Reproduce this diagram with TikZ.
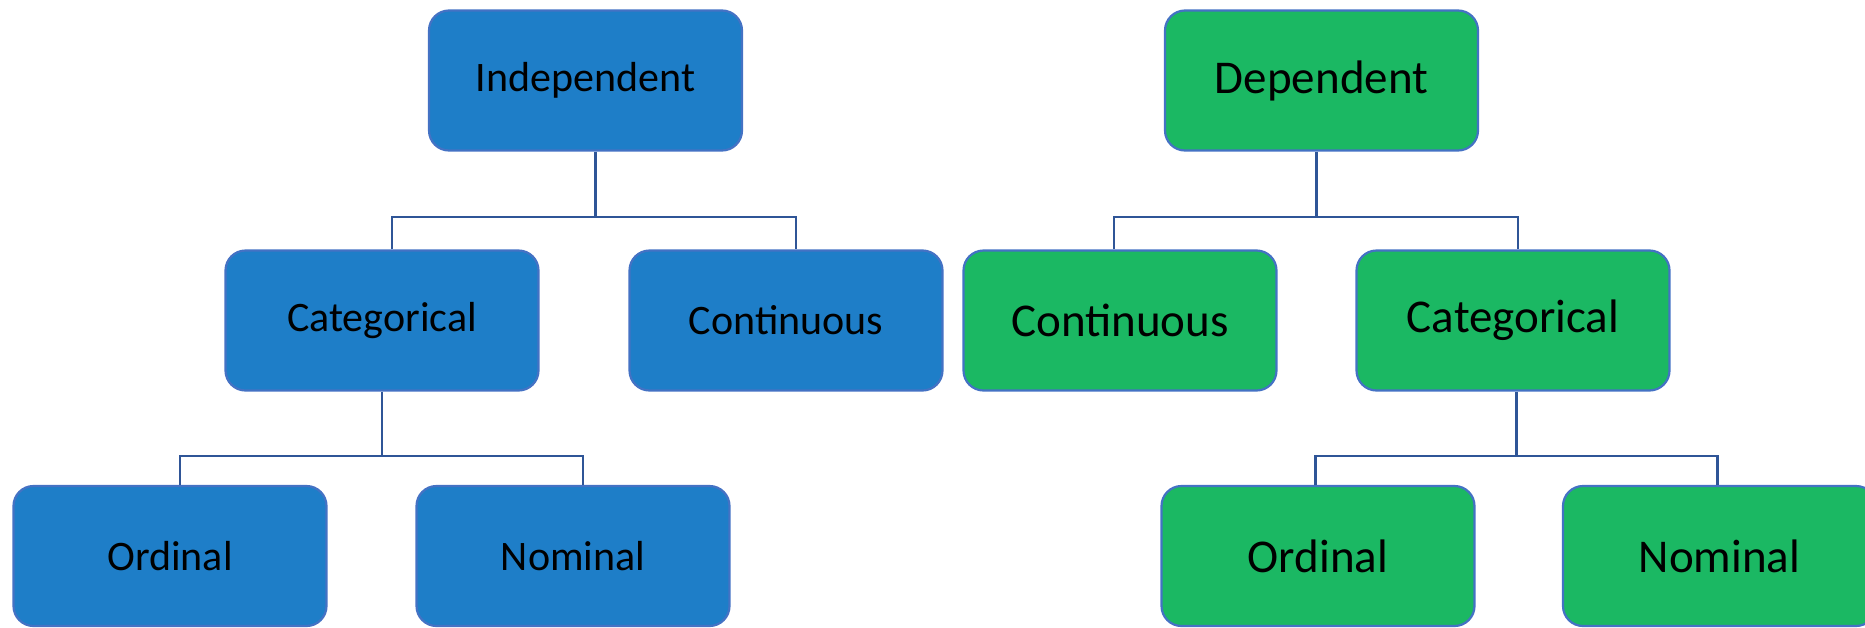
\documentclass[tikz,border=0pt]{standalone}
\usepackage{fontspec}
\setmainfont{Carlito}
\usetikzlibrary{calc}
\definecolor{boxblue}{RGB}{30,126,200}
\definecolor{boxgreen}{RGB}{27,184,99}
\definecolor{edgeblue}{RGB}{68,114,196}
\definecolor{linkblue}{RGB}{47,85,151}
\tikzset{
  box/.style={draw=edgeblue, line width=2.2pt, rounded corners=20pt,
    minimum width=313pt, minimum height=140pt, inner sep=0pt, text=black},
  bluebox/.style={box, fill=boxblue, font=\fontsize{42}{50}\selectfont},
  greenbox/.style={box, fill=boxgreen, font=\fontsize{47}{56}\selectfont},
  conn/.style={draw=linkblue, line width=2.4pt}
}
\begin{document}
\begin{tikzpicture}[x=1pt, y=-1pt]
\useasboundingbox (0,0) rectangle (1865,627);
% nodes
\node[bluebox] (ind) at (585.5,80.5) {Independent};
\node[greenbox] (dep) at (1321.5,80.5) {Dependent};
\node[bluebox] (icat) at (382,320.5) {Categorical};
\node[bluebox] (icon) at (786,320.5) {Continuous};
\node[greenbox] (dcon) at (1120,320.5) {Continuous};
\node[greenbox] (dcat) at (1513,320.5) {Categorical};
\node[bluebox] (iord) at (170,556) {Ordinal};
\node[bluebox] (inom) at (573,556) {Nominal};
\node[greenbox] (dord) at (1318,556) {Ordinal};
\node[greenbox] (dnom) at (1719.5,556) {Nominal};
% connectors
\coordinate (j1) at ($(ind.south)+(10,65.5)$);
\draw[conn] ([xshift=10pt]ind.south) -- (j1);
\draw[conn] ([xshift=10pt]icat.north) |- (j1) -| ([xshift=10pt]icon.north);
\coordinate (j2) at ($(dep.south)+(-5,65.5)$);
\draw[conn] ([xshift=-5pt]dep.south) -- (j2);
\draw[conn] ([xshift=-6pt]dcon.north) |- (j2) -| ([xshift=5pt]dcat.north);
\coordinate (j3) at ($(icat.south)+(0,64.5)$);
\draw[conn] (icat.south) -- (j3);
\draw[conn] ([xshift=10pt]iord.north) |- (j3) -| ([xshift=10pt]inom.north);
\coordinate (j4) at ($(dcat.south)+(3.5,64.5)$);
\draw[conn] ([xshift=3.5pt]dcat.south) -- (j4);
\draw[conn] ([xshift=-2.5pt]dord.north) |- (j4) -| ([xshift=-2pt]dnom.north);
\end{tikzpicture}
\end{document}
